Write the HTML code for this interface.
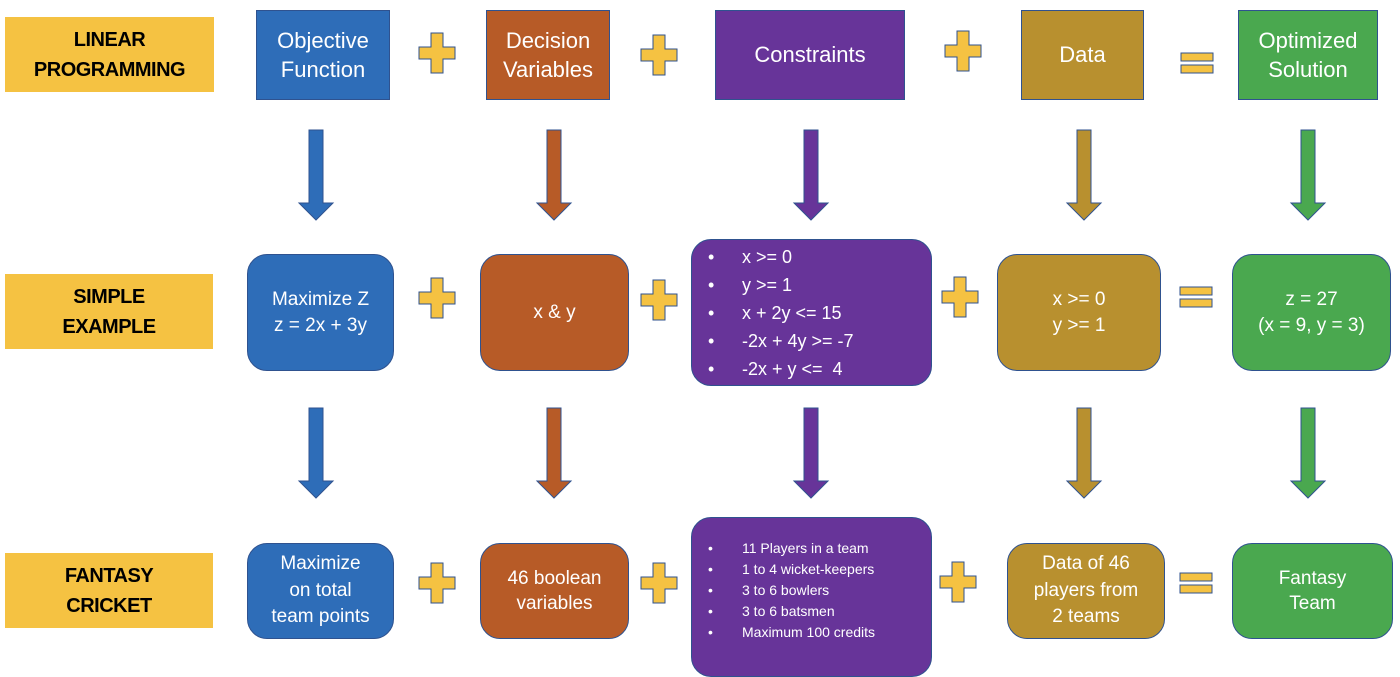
<!DOCTYPE html>
<html><head><meta charset="utf-8"><style>
body{margin:0;width:1400px;height:659px;background:#fff;position:relative;overflow:hidden;font-family:"Liberation Sans",sans-serif}
.b{position:absolute;box-sizing:border-box;border:1.5px solid #2F528F;color:#fff;display:flex;align-items:center;justify-content:center;text-align:center;line-height:1.32}
.l{position:absolute;background:#F5C242;color:#000;font-weight:bold;font-size:20px;display:flex;align-items:center;justify-content:center;text-align:center;line-height:1.5;letter-spacing:-0.5px}
.r{border-radius:20px}
.bl{background:#2E6DB8}.or{background:#B75B27}.pu{background:#673499}.go{background:#B8902F}.gr{background:#4AA84F}
.t1{font-size:22px}.t2{font-size:19px}
ul{margin:0;padding:0;list-style:none;text-align:left}
ul li{position:relative;padding-left:50px}
ul li:before{content:"•";position:absolute;left:16px}
svg{position:absolute;left:0;top:0}
</style></head><body>
<div class="l" style="left:5px;top:17px;width:209px;height:75px">LINEAR<br>PROGRAMMING</div>
<div class="l" style="left:5px;top:274px;width:208px;height:75px">SIMPLE<br>EXAMPLE</div>
<div class="l" style="left:5px;top:553px;width:208px;height:75px">FANTASY<br>CRICKET</div>

<div class="b bl t1" style="left:256px;top:10px;width:134px;height:90px">Objective<br>Function</div>
<div class="b or t1" style="left:486px;top:10px;width:124px;height:90px">Decision<br>Variables</div>
<div class="b pu t1" style="left:715px;top:10px;width:190px;height:90px">Constraints</div>
<div class="b go t1" style="left:1021px;top:10px;width:123px;height:90px">Data</div>
<div class="b gr t1" style="left:1238px;top:10px;width:140px;height:90px">Optimized<br>Solution</div>

<div class="b bl r t2" style="left:247px;top:254px;width:147px;height:117px">Maximize Z<br>z = 2x + 3y</div>
<div class="b or r t2" style="left:480px;top:254px;width:149px;height:117px">x &amp; y</div>
<div class="b pu r" style="left:691px;top:239px;width:241px;height:147px;font-size:18px;justify-content:flex-start;line-height:28px"><ul><li>x &gt;= 0</li><li>y &gt;= 1</li><li>x + 2y &lt;= 15</li><li>-2x + 4y &gt;= -7</li><li>-2x + y &lt;=&nbsp; 4</li></ul></div>
<div class="b go r t2" style="left:997px;top:254px;width:164px;height:117px">x &gt;= 0<br>y &gt;= 1</div>
<div class="b gr r t2" style="left:1232px;top:254px;width:159px;height:117px">z = 27<br>(x = 9, y = 3)</div>

<div class="b bl r t2" style="left:247px;top:543px;width:147px;height:96px;line-height:1.4">Maximize<br>on total<br>team points</div>
<div class="b or r t2" style="left:480px;top:543px;width:149px;height:96px">46 boolean<br>variables</div>
<div class="b pu r" style="left:691px;top:517px;width:241px;height:160px;font-size:14px;align-items:flex-start;justify-content:flex-start;line-height:21px;padding-top:20px"><ul><li>11 Players in a team</li><li>1 to 4 wicket-keepers</li><li>3 to 6 bowlers</li><li>3 to 6 batsmen</li><li>Maximum 100 credits</li></ul></div>
<div class="b go r t2" style="left:1007px;top:543px;width:158px;height:96px;line-height:1.4">Data of 46<br>players from<br>2 teams</div>
<div class="b gr r t2" style="left:1232px;top:543px;width:161px;height:96px">Fantasy<br>Team</div>

<svg width="1400" height="659">
<defs>
<path id="pl" d="M-6,-20 H6 V-6 H18 V6 H6 V20 H-6 V6 H-18 V-6 H-6 Z" fill="#F5C242" stroke="#2F528F" stroke-width="1"/>
<g id="eq"><rect x="-16" y="-10" width="32" height="8" fill="#F5C242" stroke="#2F528F"/><rect x="-16" y="2" width="32" height="8" fill="#F5C242" stroke="#2F528F"/></g>
<path id="ar" d="M-7,0 H7 V73 H17 L0,90 L-17,73 H-7 Z" stroke="#2F528F" stroke-width="1"/>
</defs>
<use href="#pl" x="437" y="53"/><use href="#pl" x="659" y="55"/><use href="#pl" x="963" y="51"/><use href="#eq" x="1197" y="63"/>
<use href="#pl" x="437" y="298"/><use href="#pl" x="659" y="300"/><use href="#pl" x="960" y="297"/><use href="#eq" x="1196" y="297"/>
<use href="#pl" x="437" y="583"/><use href="#pl" x="659" y="583"/><use href="#pl" x="958" y="582"/><use href="#eq" x="1196" y="583"/>
<g transform="translate(0,130)">
<use href="#ar" x="316" fill="#2E6DB8"/><use href="#ar" x="554" fill="#B75B27"/><use href="#ar" x="811" fill="#673499"/><use href="#ar" x="1084" fill="#B8902F"/><use href="#ar" x="1308" fill="#4AA84F"/>
</g>
<g transform="translate(0,408)">
<use href="#ar" x="316" fill="#2E6DB8"/><use href="#ar" x="554" fill="#B75B27"/><use href="#ar" x="811" fill="#673499"/><use href="#ar" x="1084" fill="#B8902F"/><use href="#ar" x="1308" fill="#4AA84F"/>
</g>
</svg>
</body></html>
